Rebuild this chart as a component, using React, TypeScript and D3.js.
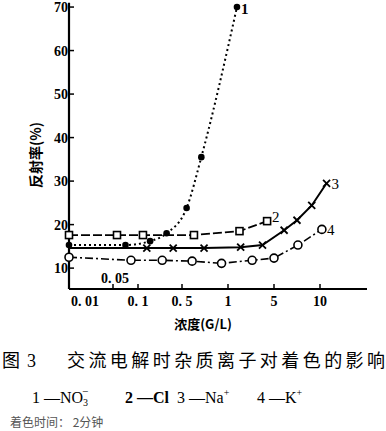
import React from "react";
import * as d3 from "d3";

const xTickValues = [0.01, 0.05, 0.1, 0.5, 1, 5, 10];
const xTickLabels = ["0. 01", "", "0. 1", "0. 5", "1", "5", "10"];
const yTickValues = [10, 20, 30, 40, 50, 60, 70];

// [concentration G/L, reflectance %]
const seriesNO3 = [[0, 15.3], [0.075, 15.3], [0.21, 16.2], [0.36, 18], [0.55, 23.8], [0.71, 35.5], [1.78, 70]];
const seriesCl = [[0, 17.6], [0.058, 17.6], [0.145, 17.6], [0.63, 17.6], [2.0, 18.5], [4.4, 20.8]];
const seriesNa = [[0, 14.6], [0.18, 14.6], [0.42, 14.6], [0.74, 14.6], [2.1, 14.8], [4.0, 15.3], [6.1, 18.7], [7.5, 21], [9.1, 24.4], [10.7, 29.5]];
const seriesK = [[0, 12.5], [0.086, 11.8], [0.32, 11.8], [0.61, 11.6], [0.93, 11.1], [3.1, 11.8], [5, 12.3], [7.6, 15.3], [10.2, 18.9]];
const seriesNames = ["1", "2", "3", "4"];

const W = 386, H = 431;
// hand-drawn, non-uniform concentration axis (piecewise linear)
const xDomain = [0, 0.01, 0.05, 0.1, 0.5, 1, 5, 10, 15];
const xRange = [69, 85, 113, 138, 182, 228, 274, 320, 367];
const x = d3.scaleLinear().domain(xDomain).range(xRange);
const y = d3.scaleLinear().domain([5.2, 71]).range([289, 2.7]);

const numFont = "'Liberation Serif', 'DejaVu Serif', serif";
const cjk = "'Noto Sans CJK SC', sans-serif";

export default function App() {
  const line = d3.line<number[]>().x(d => x(d[0])).y(d => y(d[1]));
  const smooth = d3.line<number[]>().x(d => x(d[0])).y(d => y(d[1])).curve(d3.curveMonotoneX);
  const x0 = x(0), yB = y(5.2);
  const last = (s: number[][]) => s[s.length - 1];
  return (
    <svg width={W} height={H} style={{ position: "absolute", left: 0, top: 0, background: "#fff" }}>
      {/* axes */}
      <line x1={x0} y1={y(71)} x2={x0} y2={yB} stroke="#000" strokeWidth={2.2} />
      <line x1={x0} y1={yB} x2={x(15)} y2={yB} stroke="#000" strokeWidth={2} />
      {yTickValues.map(v => (
        <g key={v}>
          <line x1={x0} x2={x0 + 5} y1={y(v)} y2={y(v)} stroke="#000" strokeWidth={1.5} />
          <text x={x0 - 1} y={y(v) + 5} textAnchor="end" fontFamily={numFont} fontWeight="bold" fontSize={14}>{v}</text>
        </g>
      ))}
      {xTickValues.map((v, i) => (
        <g key={v}>
          {v !== 0.01 && <line x1={x(v)} x2={x(v)} y1={yB} y2={yB - 5} stroke="#000" strokeWidth={1.5} />}
          <text x={x(v)} y={yB + 17} textAnchor="middle" fontFamily={numFont} fontWeight="bold" fontSize={14}>{xTickLabels[i]}</text>
        </g>
      ))}
      <text x={x(0.05) + 2} y={yB - 6} textAnchor="middle" fontFamily={numFont} fontWeight="bold" fontSize={14}>0. 05</text>
      <text transform={`translate(41,155) rotate(-90)`} textAnchor="middle" fontFamily={cjk} fontWeight="bold" fontSize={14}>反射率(%)</text>

      {/* series lines */}
      <path d={smooth(seriesNO3) || ""} fill="none" stroke="#000" strokeWidth={2} strokeDasharray="2,3" />
      <path d={line(seriesCl) || ""} fill="none" stroke="#000" strokeWidth={1.8} strokeDasharray="9,3" />
      <path d={line(seriesNa) || ""} fill="none" stroke="#000" strokeWidth={2} />
      <path d={line(seriesK) || ""} fill="none" stroke="#000" strokeWidth={1.6} strokeDasharray="8,3,2,3" />

      {/* markers */}
      {seriesNO3.map((d, i) => <circle key={"a" + i} cx={x(d[0])} cy={y(d[1])} r={3.3} fill="#000" />)}
      {seriesCl.map((d, i) => <rect key={"b" + i} x={x(d[0]) - 3.5} y={y(d[1]) - 3.5} width={7} height={7} fill="#fff" stroke="#000" strokeWidth={1.6} />)}
      {seriesNa.slice(1).map((d, i) => (
        <g key={"c" + i} stroke="#000" strokeWidth={1.8}>
          <line x1={x(d[0]) - 3.5} y1={y(d[1]) - 3.5} x2={x(d[0]) + 3.5} y2={y(d[1]) + 3.5} />
          <line x1={x(d[0]) - 3.5} y1={y(d[1]) + 3.5} x2={x(d[0]) + 3.5} y2={y(d[1]) - 3.5} />
        </g>
      ))}
      {seriesK.map((d, i) => <circle key={"d" + i} cx={x(d[0])} cy={y(d[1])} r={4} fill="#fff" stroke="#000" strokeWidth={1.6} />)}

      {/* series labels */}
      <text x={x(last(seriesNO3)[0]) + 4} y={y(last(seriesNO3)[1]) + 7} fontFamily={numFont} fontWeight="bold" fontSize={15}>{seriesNames[0]}</text>
      <text x={x(last(seriesCl)[0]) + 5} y={y(last(seriesCl)[1]) + 1} fontFamily={numFont} fontSize={15}>{seriesNames[1]}</text>
      <text x={x(last(seriesNa)[0]) + 5} y={y(last(seriesNa)[1]) + 6} fontFamily={numFont} fontSize={15}>{seriesNames[2]}</text>
      <text x={x(last(seriesK)[0]) + 5} y={y(last(seriesK)[1]) + 6} fontFamily={numFont} fontSize={15}>{seriesNames[3]}</text>

      {/* captions */}
      <text x={203} y={329} textAnchor="middle" fontFamily={cjk} fontWeight="bold" fontSize={13}>浓度(G/L)</text>
      <text x={2} y={367} fontFamily={cjk} fontSize={18}>图</text>
      <text x={27} y={367} fontFamily={numFont} fontSize={18}>3</text>
      <text x={67} y={367} fontFamily={cjk} fontSize={18} textLength={318} lengthAdjust="spacing">交流电解时杂质离子对着色的影响</text>
      <g fontFamily={numFont} fontSize={16}>
        <text x={32} y={403}>1 —NO<tspan fontSize={10} dy={3}>3</tspan><tspan fontSize={11} dx={-6} dy={-11}>−</tspan></text>
        <text x={125} y={403} fontWeight="bold">2 —Cl</text>
        <text x={177} y={403}>3 —Na<tspan fontSize={10} dy={-7}>+</tspan></text>
        <text x={257} y={403}>4 —K<tspan fontSize={10} dy={-7}>+</tspan></text>
      </g>
      <text x={10} y={427} fontFamily={cjk} fontSize={12} fill="#555">着色时间： 2分钟</text>
    </svg>
  );
}
